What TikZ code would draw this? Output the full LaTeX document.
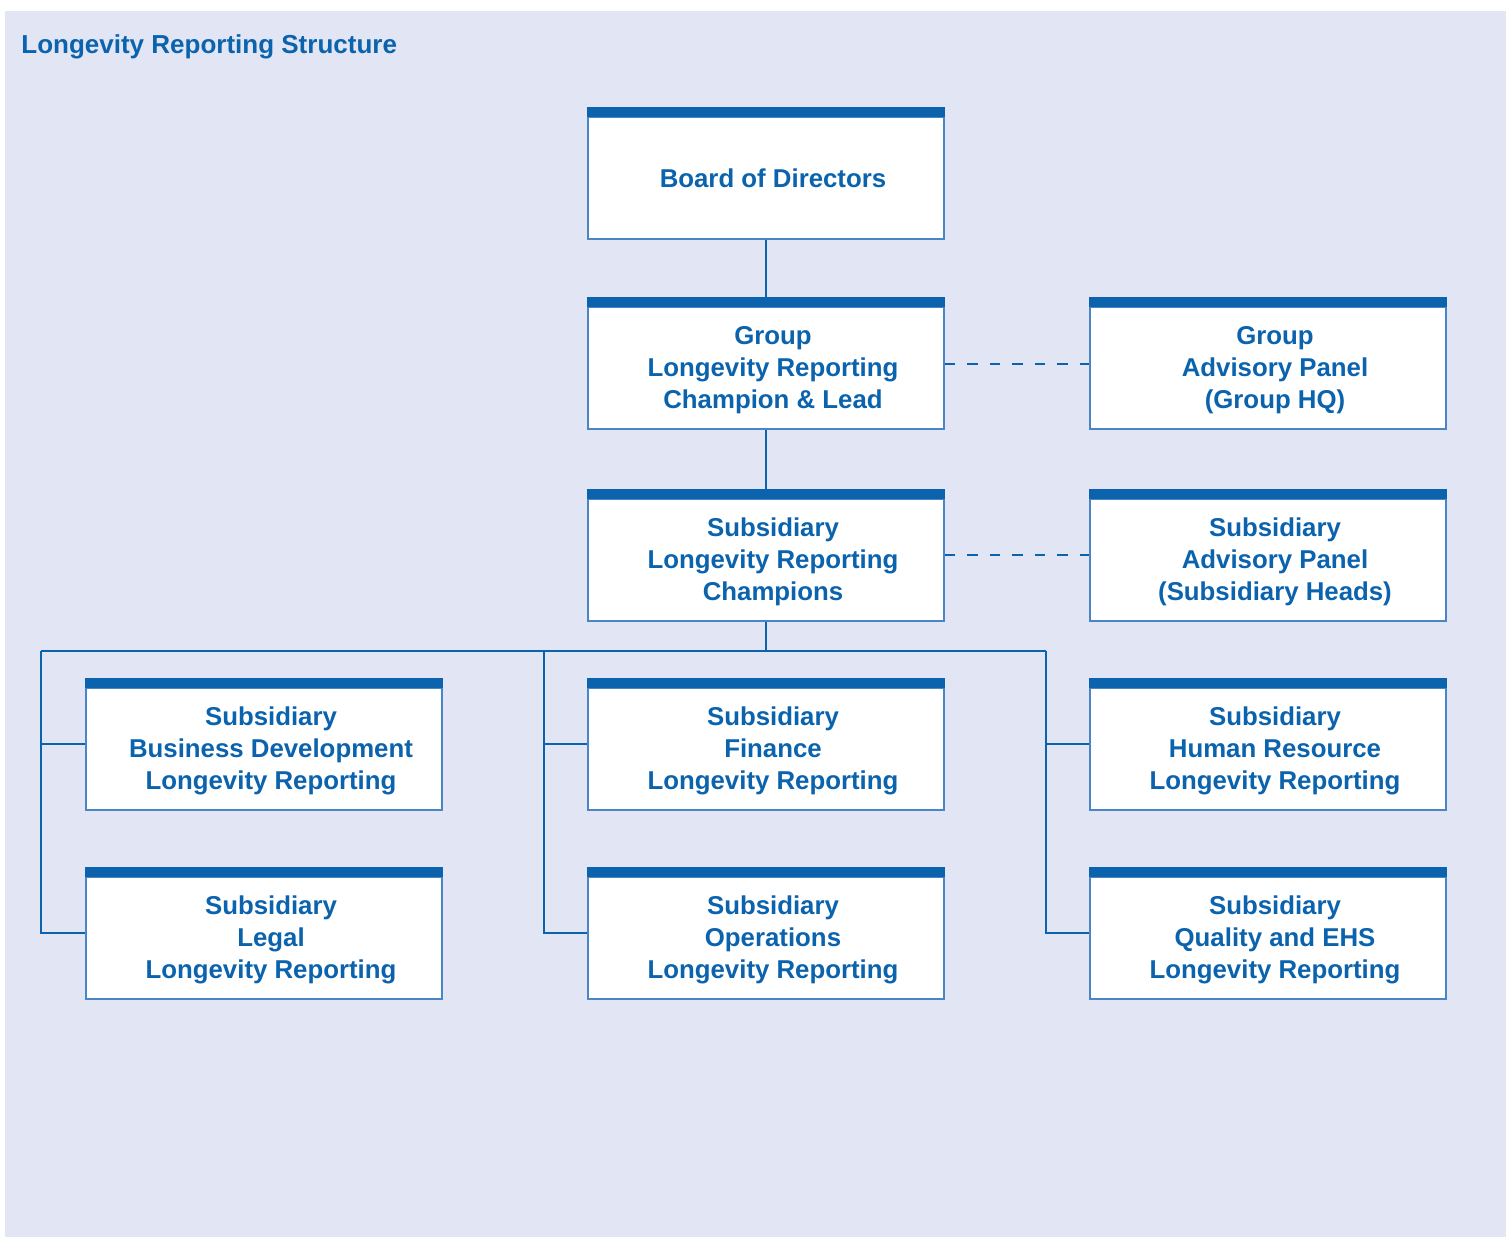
\documentclass[tikz,border=0pt]{standalone}
\usepackage{fontspec}
\setmainfont{Liberation Sans}
\usetikzlibrary{calc}
\definecolor{bgc}{HTML}{E2E6F4}
\definecolor{dblue}{HTML}{0B63AD}
\definecolor{lblue}{HTML}{4A86C5}
\tikzset{
  box/.style={draw=lblue, line width=0.75pt, fill=white, minimum width=178pt, minimum height=61pt,
    inner sep=0pt, align=center, text=dblue, font=\bfseries\fontsize{12.9}{16}\selectfont},
  boxtext/.style={text=dblue, align=center, inner sep=0pt, font=\bfseries\fontsize{12.9}{16}\selectfont},
  conn/.style={draw=dblue, line width=1pt},
  dconn/.style={draw=dblue, line width=1pt, dash pattern=on 5.25pt off 6pt},
}
\begin{document}
\begin{tikzpicture}[x=0.5pt,y=-0.5pt]
\useasboundingbox (0,0) rectangle (1506,1237);
\fill[bgc] (5,11) rectangle (1506,1237);
\node[anchor=base west, text=dblue, font=\bfseries\fontsize{13}{15}\selectfont, inner sep=0pt] (title) at (21,53) {Longevity Reporting Structure};

\coordinate (bus) at (766,651);
\coordinate (busL) at (41,651);
\coordinate (busM) at (544,651);
\coordinate (busR) at (1046,651);

\node[box] (board) at (766,177.75) {};
\node[box] (glead) at (766,367.75) {};
\node[box] (gadv) at (1268,367.75) {};
\node[box] (schamp) at (766,559.75) {};
\node[box] (sadv) at (1268,559.75) {};
\node[box] (bd) at (264,748.75) {};
\node[box] (fin) at (766,748.75) {};
\node[box] (hr) at (1268,748.75) {};
\node[box] (legal) at (264,937.75) {};
\node[box] (ops) at (766,937.75) {};
\node[box] (qehs) at (1268,937.75) {};

\node[boxtext] (tboard) at ([xshift=3.5pt,yshift=-0.5pt]board.center) {Board of Directors};
\node[boxtext] (tglead) at ([xshift=3.5pt,yshift=-1pt]glead.center) {Group\\Longevity Reporting\\Champion \& Lead};
\node[boxtext] (tgadv) at ([xshift=3.5pt,yshift=-1pt]gadv.center) {Group\\Advisory Panel\\(Group HQ)};
\node[boxtext] (tschamp) at ([xshift=3.5pt,yshift=-1pt]schamp.center) {Subsidiary\\Longevity Reporting\\Champions};
\node[boxtext] (tsadv) at ([xshift=3.5pt,yshift=-1pt]sadv.center) {Subsidiary\\Advisory Panel\\(Subsidiary Heads)};
\node[boxtext] (tbd) at ([xshift=3.5pt,yshift=-1pt]bd.center) {Subsidiary\\Business Development\\Longevity Reporting};
\node[boxtext] (tfin) at ([xshift=3.5pt,yshift=-1pt]fin.center) {Subsidiary\\Finance\\Longevity Reporting};
\node[boxtext] (thr) at ([xshift=3.5pt,yshift=-1pt]hr.center) {Subsidiary\\Human Resource\\Longevity Reporting};
\node[boxtext] (tlegal) at ([xshift=3.5pt,yshift=-1pt]legal.center) {Subsidiary\\Legal\\Longevity Reporting};
\node[boxtext] (tops) at ([xshift=3.5pt,yshift=-1pt]ops.center) {Subsidiary\\Operations\\Longevity Reporting};
\node[boxtext] (tqehs) at ([xshift=3.5pt,yshift=-1pt]qehs.center) {Subsidiary\\Quality and EHS\\Longevity Reporting};

\foreach \n in {board,glead,gadv,schamp,sadv,bd,fin,hr,legal,ops,qehs}{
  \fill[dblue] ([yshift=4.75pt]\n.north west) rectangle ([yshift=-0.4pt]\n.north east);
}

\draw[conn] (board.south) -- ([yshift=4.75pt]glead.north);
\draw[conn] (glead.south) -- ([yshift=4.75pt]schamp.north);
\draw[dconn] (glead.east |- 0,364) -- (gadv.west |- 0,364);
\draw[dconn] (schamp.east |- 0,555) -- (sadv.west |- 0,555);
\draw[conn] (schamp.south) -- (bus);
\draw[conn] (busL) -- (busR);
\draw[conn] (busL) |- (legal.west |- 0,933);
\draw[conn] (busL |- 0,744) -- (bd.west |- 0,744);
\draw[conn] (busM) |- (ops.west |- 0,933);
\draw[conn] (busM |- 0,744) -- (fin.west |- 0,744);
\draw[conn] (busR) |- (qehs.west |- 0,933);
\draw[conn] (busR |- 0,744) -- (hr.west |- 0,744);
\end{tikzpicture}
\end{document}
